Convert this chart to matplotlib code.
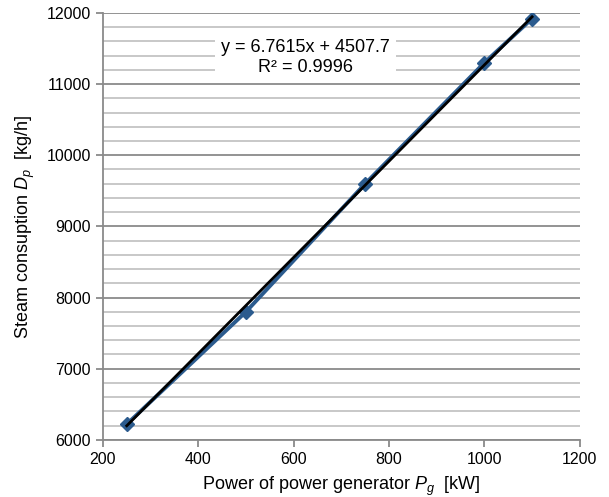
import numpy as np
import matplotlib
matplotlib.use('Agg')
import matplotlib.pyplot as plt
from matplotlib.ticker import MultipleLocator

plt.rcParams['font.family'] = ['Liberation Sans', 'DejaVu Sans']
plt.rcParams['mathtext.fontset'] = 'custom'
plt.rcParams['mathtext.rm'] = 'Liberation Sans'
plt.rcParams['mathtext.it'] = 'Liberation Sans:italic'

# data
power = [250, 500, 750, 1000, 1100]
steam = [6220, 7800, 9600, 11300, 11920]

# linear trendline shown on the chart
slope = 6.7615
intercept = 4507.7
r2 = 0.9996

fig = plt.figure(figsize=(6.09, 4.97), dpi=100)
ax = fig.add_axes([0.169, 0.115, 0.783, 0.859])

ax.set_xlim(200, 1200)
ax.set_ylim(6000, 12000)
ax.xaxis.set_major_locator(MultipleLocator(200))
ax.yaxis.set_major_locator(MultipleLocator(1000))
ax.yaxis.set_minor_locator(MultipleLocator(200))

# grid lines
ax.grid(True, which='minor', axis='y', color='#c4c4c4', linewidth=1.3, zorder=0)
ax.grid(True, which='major', axis='y', color='#8a8a8a', linewidth=1.3, zorder=0)
ax.set_axisbelow(True)

for s in ['top', 'right']:
    ax.spines[s].set_visible(False)
for s in ['left', 'bottom']:
    ax.spines[s].set_color('#8a8a8a')
    ax.spines[s].set_linewidth(1.3)

ax.tick_params(axis='both', which='major', direction='out', length=5,
               color='#8a8a8a', width=1.3, labelsize=11.5, labelcolor='black')
ax.tick_params(axis='y', which='minor', length=0)

# series
ax.plot(power, steam, color='#2b5b8e', linewidth=2.8, marker='D',
        markersize=7.5, markeredgecolor='#2b5b8e', zorder=3)

# trendline
xt = np.array([power[0], power[-1]])
ax.plot(xt, slope * xt + intercept, color='black', linewidth=2.0, zorder=4)

ax.text(625, 11370, f'y = {slope}x + {intercept}\nR² = {r2}',
        ha='center', va='center', multialignment='center', fontsize=13,
        bbox=dict(boxstyle='square,pad=0.35', facecolor='white',
                  edgecolor='none'), zorder=5)

ax.set_xlabel('Power of power generator $P_g$  [kW]', fontsize=13, labelpad=6)
ax.set_ylabel('Steam consuption $D_p$  [kg/h]', fontsize=13, labelpad=7)

fig.savefig('out.png', dpi=100)
